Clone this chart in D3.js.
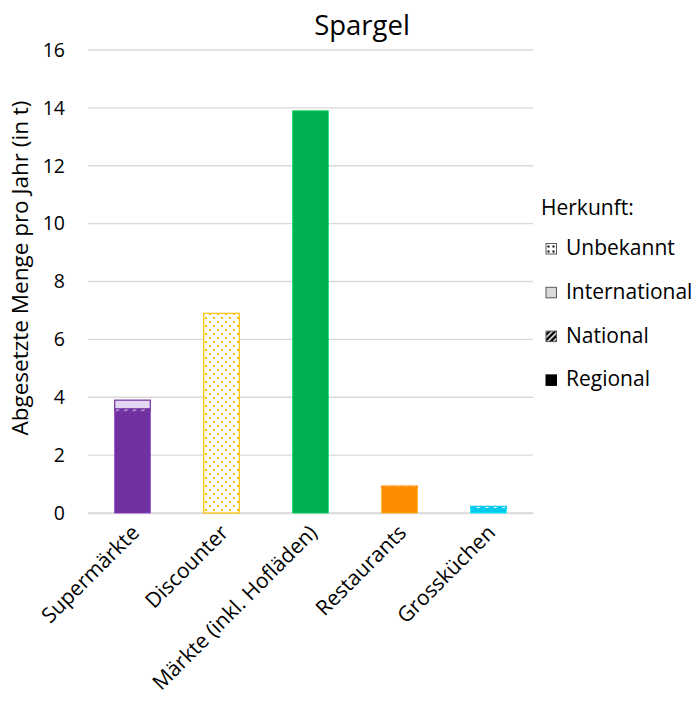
<!DOCTYPE html>
<html><head><meta charset="utf-8">
<script src="https://cdn.jsdelivr.net/npm/d3@7"></script>
<style>body{margin:0;background:#fff}svg{display:block}text{font-family:"Open Sans",sans-serif}</style>
</head><body><svg id="c" width="692" height="703"></svg>
<script>
const categories = ["Supermärkte","Discounter","Märkte (inkl. Hofläden)","Restaurants","Grossküchen"];
const colors = ["#7030A0","#FFC000","#00B050","#FF8C00","#00C8EE"];
const tints = ["#E4D6F2","#FFF2CC","#D5F5E3","#FFE5CC","#D4F6FC"];
const regional = [3.52, 0, 13.9, 0.88, 0.15];
const national = [0.08, 0, 0, 0.05, 0.08];
const international = [0.3, 0, 0, 0, 0];
const unbekannt = [0, 6.9, 0, 0, 0];
const series = ["regional","national","international","unbekannt"];
const yTicks = [0,2,4,6,8,10,12,14,16];
const legendLabels = ["Unbekannt","International","National","Regional"];

const FT = 19.5, FL = 21;
const svg = d3.select("#c");
const m = {l:88, r:533, t:50, b:513};
const x = d3.scaleBand().domain(categories).range([m.l, m.r]).paddingInner(0.6).paddingOuter(0.3);
const y = d3.scaleLinear().domain([0,16]).range([m.b, m.t]);

const defs = svg.append("defs");
colors.forEach((c,i)=>{
  const dp = defs.append("pattern").attr("id","dots"+i).attr("patternUnits","userSpaceOnUse").attr("width",8).attr("height",8);
  dp.append("rect").attr("width",8).attr("height",8).attr("fill","#fff");
  dp.append("rect").attr("x",1).attr("y",1).attr("width",2).attr("height",2).attr("fill",c);
  dp.append("rect").attr("x",5).attr("y",5).attr("width",2).attr("height",2).attr("fill",c);
  const hp = defs.append("pattern").attr("id","hatch"+i).attr("patternUnits","userSpaceOnUse").attr("width",6).attr("height",6).attr("patternTransform","rotate(45)");
  hp.append("rect").attr("width",6).attr("height",6).attr("fill",c);
  hp.append("rect").attr("width",2.2).attr("height",6).attr("fill","#fff");
});
const ldp = defs.append("pattern").attr("id","ldots").attr("patternUnits","userSpaceOnUse").attr("width",5).attr("height",5).attr("x",546).attr("y",244);
ldp.append("rect").attr("width",5).attr("height",5).attr("fill","#fff");
ldp.append("rect").attr("x",1.5).attr("y",1.5).attr("width",2).attr("height",2).attr("fill","#000");
const lhp = defs.append("pattern").attr("id","lhatch").attr("patternUnits","userSpaceOnUse").attr("width",4).attr("height",4).attr("patternTransform","rotate(45)");
lhp.append("rect").attr("width",4).attr("height",4).attr("fill","#000");
lhp.append("rect").attr("width",1.5).attr("height",4).attr("fill","#fff");

// gridlines
svg.append("g").selectAll("line").data(yTicks).join("line")
  .attr("x1",m.l).attr("x2",m.r).attr("y1",d=>y(d)).attr("y2",d=>y(d))
  .attr("stroke","#D9D9D9").attr("stroke-width",1.3);

// y axis
const ya = svg.append("g").attr("transform",`translate(${m.l},0)`)
  .call(d3.axisLeft(y).tickValues(yTicks).tickSize(0).tickPadding(23));
ya.select(".domain").remove();
ya.selectAll("text").attr("font-size",FT).attr("fill","#000").attr("font-family","'Open Sans',sans-serif");

// x axis
const xa = svg.append("g").attr("transform",`translate(0,${m.b})`)
  .call(d3.axisBottom(x).tickSize(0).tickPadding(0));
xa.select(".domain").attr("stroke","#D9D9D9").attr("stroke-width",1.3);
xa.selectAll("text").attr("font-size",FL).attr("fill","#000").attr("font-family","'Open Sans',sans-serif")
  .attr("text-anchor","end").attr("dy",0).attr("transform","translate(8,21) rotate(-45)");

// bars
const data = categories.map((c,i)=>({cat:c,i,regional:regional[i],national:national[i],international:international[i],unbekannt:unbekannt[i]}));
const stack = d3.stack().keys(series)(data);
const fillFor = (key,i)=> key==="regional"?colors[i]: key==="national"?`url(#hatch${i})`: key==="international"?tints[i]:`url(#dots${i})`;
stack.forEach(s=>{
  svg.append("g").selectAll("rect").data(s.filter(d=>d[1]-d[0]>0)).join("rect")
    .attr("x",d=>x(d.data.cat)).attr("width",x.bandwidth())
    .attr("y",d=>y(d[1])).attr("height",d=>y(d[0])-y(d[1]))
    .attr("fill",d=>fillFor(s.key,d.data.i))
    .attr("stroke",d=>s.key==="regional"?d3.color(colors[d.data.i]).brighter(0.6):colors[d.data.i])
    .attr("stroke-width",s.key==="regional"?0.8:1.2);
});

// title
svg.append("text").attr("x",362).attr("y",35).attr("text-anchor","middle").attr("font-size",27.5).text("Spargel");
// y label
svg.append("text").attr("transform","translate(28,268) rotate(-90)").attr("text-anchor","middle").attr("font-size",22.5).text("Abgesetzte Menge pro Jahr (in t)");

// legend
const lg = svg.append("g");
lg.append("text").attr("x",541).attr("y",215).attr("font-size",FL).text("Herkunft:");
const lfills = ["url(#ldots)","#D9D9D9","url(#lhatch)","#000"];
legendLabels.forEach((t,k)=>{
  const base = 255 + k*43.8;
  lg.append("rect").attr("x",546).attr("y",base-11.5).attr("width",10.5).attr("height",10.5)
    .attr("fill",lfills[k]).attr("stroke",k===3?"#000":"#595959").attr("stroke-width",1);
  lg.append("text").attr("x",566).attr("y",base).attr("font-size",FL).text(t);
});
</script></body></html>
